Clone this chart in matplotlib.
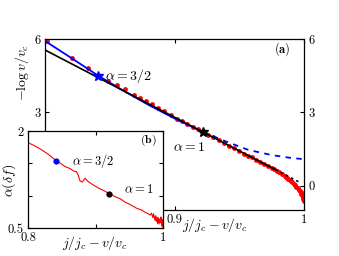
import matplotlib
matplotlib.use("Agg")
import matplotlib.pyplot as plt

plt.rcParams['font.family'] = 'serif'
plt.rcParams['font.serif'] = ['cmr10', 'DejaVu Serif']
plt.rcParams['mathtext.fontset'] = 'cm'
plt.rcParams['axes.formatter.use_mathtext'] = True
plt.rcParams['font.size'] = 9

# main panel (a): -log v/v_c vs j/j_c - v/v_c
red_x = [0.8013, 0.8212, 0.8331, 0.841, 0.849, 0.8556, 0.862, 0.8685, 0.873, 0.878,
         0.883, 0.887, 0.892, 0.897, 0.902, 0.906, 0.910, 0.914, 0.918, 0.922,
         0.926, 0.930, 0.934, 0.938, 0.942, 0.946, 0.950, 0.954, 0.957, 0.960,
         0.963, 0.966, 0.969, 0.972, 0.975, 0.977, 0.979, 0.981, 0.983, 0.985,
         0.986, 0.987, 0.988, 0.989, 0.990, 0.991, 0.992, 0.993, 0.994, 0.995,
         0.996, 0.997, 0.9975, 0.998, 0.9985, 0.999, 0.9993, 0.9996, 0.9998, 1.0]
red_y = [5.91, 5.24, 4.80, 4.50, 4.29, 4.13, 3.96, 3.72, 3.59, 3.45,
         3.32, 3.19, 3.04, 2.88, 2.74, 2.63, 2.52, 2.41, 2.30, 2.19,
         2.08, 1.97, 1.86, 1.75, 1.64, 1.53, 1.42, 1.31, 1.23, 1.15,
         1.06, 0.98, 0.90, 0.81, 0.73, 0.67, 0.61, 0.54, 0.47, 0.40,
         0.36, 0.32, 0.28, 0.23, 0.18, 0.13, 0.08, 0.02, -0.04, -0.10,
         -0.17, -0.24, -0.28, -0.33, -0.38, -0.43, -0.48, -0.54, -0.59, -0.65]

blue_x = [0.8, 0.821, 0.841, 0.86, 0.88, 0.90, 0.922]
blue_y = [5.92, 5.2, 4.5, 3.9, 3.3, 2.75, 2.19]
blue_dash_x = [0.922, 0.94, 0.957, 0.975, 0.99, 1.0]
blue_dash_y = [2.19, 1.8, 1.46, 1.25, 1.13, 1.08]

black_x = [0.8, 0.922, 0.978]
black_y = [5.55, 2.19, 0.65]
black_dot_x = [0.978, 0.996]
black_dot_y = [0.65, 0.15]

star_blue = (0.841, 4.5)
star_black = (0.922, 2.19)

# inset (b): alpha(delta f)
ins_x = [0.8, 0.81, 0.82, 0.83, 0.836, 0.8415, 0.848, 0.855, 0.862, 0.868,
         0.872, 0.8746, 0.877, 0.8805, 0.8845, 0.887, 0.889, 0.896, 0.904, 0.912,
         0.9205, 0.93, 0.937, 0.9437, 0.95, 0.955, 0.962, 0.968, 0.974, 0.978,
         0.981, 0.983, 0.985, 0.986, 0.988, 0.989, 0.990, 0.991, 0.992, 0.993,
         0.994, 0.995, 0.996, 0.997, 0.998, 0.999, 0.9995, 1.0]
ins_y = [1.82, 1.77, 1.71, 1.64, 1.59, 1.54, 1.50, 1.45, 1.42, 1.38,
         1.37, 1.31, 1.23, 1.21, 1.27, 1.24, 1.22, 1.17, 1.12, 1.08,
         1.03, 0.98, 0.95, 0.90, 0.87, 0.84, 0.80, 0.78, 0.74, 0.72,
         0.70, 0.73, 0.66, 0.72, 0.62, 0.69, 0.60, 0.67, 0.57, 0.66,
         0.56, 0.64, 0.58, 0.67, 0.53, 0.63, 0.55, 0.50]
ins_blue = (0.8415, 1.54)
ins_black = (0.9205, 1.03)

W, H = 339, 256
fig = plt.figure(figsize=(W / 100, H / 100), dpi=100)
fig.patch.set_facecolor('white')

ax = fig.add_axes([45 / W, 1 - 210 / H, 259 / W, 171 / H])
ax.plot(blue_x, blue_y, color='#0000ff', lw=1.3, zorder=3)
ax.plot(blue_dash_x, blue_dash_y, color='#0000ff', lw=1.3, ls=(0, (3, 3)), zorder=3)
ax.plot(red_x, red_y, 'o', color='#ff0000', ms=3.5, mew=0, zorder=2)
ax.plot(black_x, black_y, color='black', lw=1.2, zorder=4)
ax.plot(black_dot_x, black_dot_y, color='black', lw=1.2, ls=(0, (1.5, 2)), zorder=4)
ax.plot(*star_blue, '*', color='#0000ff', ms=7, zorder=5)
ax.plot(*star_black, '*', color='black', ms=7, zorder=5)
ax.text(0.846, 4.5, r'$\alpha = 3/2$', fontsize=10, va='center', ha='left')
ax.text(0.899, 1.55, r'$\alpha = 1$', fontsize=10, va='center', ha='left')
ax.text(0.99, 5.6, r'$\mathbf{(a)}$', fontsize=9, va='center', ha='right')

ax.set_xlim(0.8, 1.0)
ax.set_ylim(-1, 6)
ax.set_xticks([0.8, 0.9, 1.0])
ax.set_xticklabels(['0.8', '0.9', '1'])
ax.set_yticks([0, 3, 6])
ax.set_yticklabels(['0', '3', '6'])
ax.tick_params(direction='in', top=True, right=True, labelright=True,
               length=3, width=0.8, labelsize=9, pad=3)
for s in ax.spines.values():
    s.set_linewidth(0.9)

fig.text(215 / W, 1 - 225 / H, r'$j/j_c - v/v_c$', fontsize=10, ha='center', va='center')
fig.text(22 / W, 1 - 72 / H, r'$-\log v/v_c$', fontsize=10, ha='center', va='center',
         rotation=90)

# inset
axi = fig.add_axes([28 / W, 1 - 228 / H, 135 / W, 97 / H], zorder=10)
axi.set_facecolor('white')
axi.plot(ins_x, ins_y, color='#ff0000', lw=0.8)
axi.plot(*ins_blue, 'o', color='#0000ff', ms=4.5, mew=0)
axi.plot(*ins_black, 'o', color='black', ms=4.5, mew=0)
axi.text(0.865, 1.54, r'$\alpha = 3/2$', fontsize=9, va='center', ha='left')
axi.text(0.942, 1.1, r'$\alpha = 1$', fontsize=9, va='center', ha='left')
axi.text(0.99, 1.86, r'$\mathbf{(b)}$', fontsize=8.5, va='center', ha='right')
axi.set_xlim(0.8, 1.0)
axi.set_ylim(0.5, 2.0)
axi.set_xticks([0.8, 0.9, 1.0])
axi.set_xticklabels(['0.8', '', '1'])
axi.set_yticks([0.5, 1.0, 1.5, 2.0])
axi.set_yticklabels(['0.5', '', '', '2'])
axi.tick_params(direction='in', top=True, right=True, length=3, width=0.8,
                labelsize=9, pad=3)
for s in axi.spines.values():
    s.set_linewidth(0.9)

fig.text(95 / W, 1 - 243 / H, r'$j/j_c - v/v_c$', fontsize=10, ha='center', va='center')
fig.text(9 / W, 1 - 180 / H, r'$\alpha(\delta f)$', fontsize=10, ha='center', va='center',
         rotation=90)

fig.savefig('out.png', dpi=100, facecolor='white')
